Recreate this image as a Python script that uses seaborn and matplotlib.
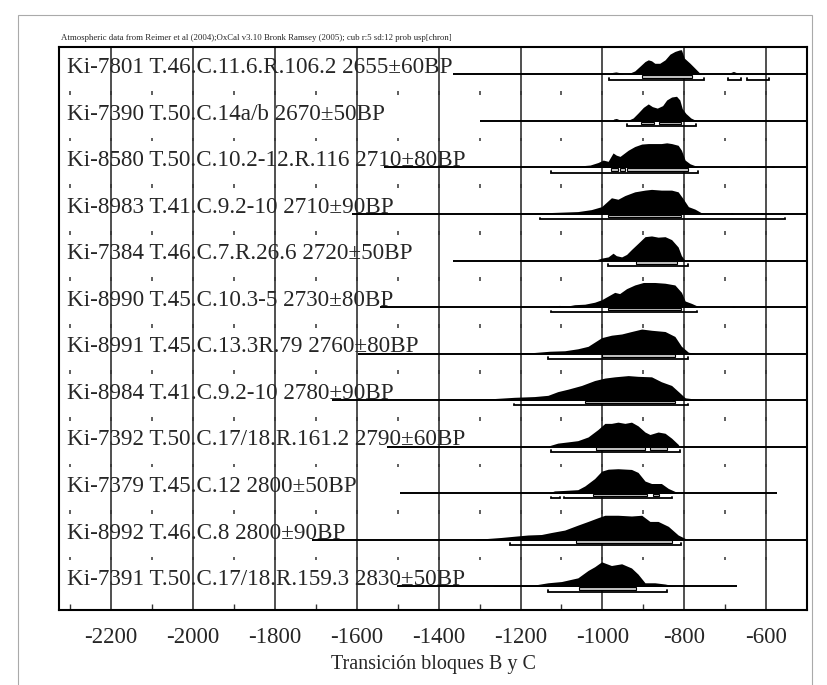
#!/usr/bin/env python
"""
plot.py - OxCal style multiplot of calibrated dates, transicion bloques B y C
usage: python plot.py
"""
import matplotlib
matplotlib.use("Agg")
import matplotlib.pyplot as plt
from matplotlib.patches import Rectangle
import seaborn as sns

TITLE = ("Atmospheric data from Reimer et al (2004);OxCal v3.10 Bronk Ramsey (2005); "
         "cub r:5 sd:12 prob usp[chron]")
XLABEL = "Transición bloques B y C"

labels = [
    "Ki-7801 T.46.C.11.6.R.106.2 2655±60BP",
    "Ki-7390 T.50.C.14a/b 2670±50BP",
    "Ki-8580 T.50.C.10.2-12.R.116 2710±80BP",
    "Ki-8983 T.41.C.9.2-10 2710±90BP",
    "Ki-7384 T.46.C.7.R.26.6 2720±50BP",
    "Ki-8990 T.45.C.10.3-5 2730±80BP",
    "Ki-8991 T.45.C.13.3R.79 2760±80BP",
    "Ki-8984 T.41.C.9.2-10 2780±90BP",
    "Ki-7392 T.50.C.17/18.R.161.2 2790±60BP",
    "Ki-7379 T.45.C.12 2800±50BP",
    "Ki-8992 T.46.C.8 2800±90BP",
    "Ki-7391 T.50.C.17/18.R.159.3 2830±50BP",
]

# extent of the horizontal line of every row (cal BC as negative years)
line_start = [-1365, -1299, -1533, -1611, -1365, -1543, -1597, -1661, -1527, -1494, -1710, -1502]
line_end = [-501, -501, -501, -501, -501, -501, -501, -501, -501, -574, -501, -672]

# probability profiles (year, relative height)
prof_years = [
    [-988, -975, -967, -958, -948, -941, -921, -909, -896, -888, -880, -872, -860, -847, -835,
     -823, -812, -807, -800, -786, -774, -762, -756, -694, -686, -680, -674, -668],
    [-978, -972, -966, -960, -950, -941, -925, -913, -900, -888, -878, -866, -853, -843, -831,
     -819, -811, -805, -796, -784, -774, -766],
    [-1130, -1100, -1051, -1030, -1011, -998, -986, -974, -966, -957, -949, -937, -921, -904,
     -888, -872, -856, -843, -831, -815, -807, -798, -786, -770, -762, -692, -686, -670, -664,
     -651, -645, -606, -600, -590, -584, -578],
    [-1270, -1264, -1207, -1129, -1060, -1027, -1002, -978, -962, -945, -921, -896, -880, -856,
     -831, -815, -802, -790, -774, -758, -745, -690, -684, -678, -617, -611, -605],
    [-1020, -1015, -1002, -986, -974, -966, -953, -941, -929, -913, -896, -880, -864, -847, -831,
     -815, -807, -798],
    [-1135, -1129, -1105, -1084, -1068, -1043, -1019, -1002, -986, -970, -958, -941, -921, -900,
     -872, -847, -823, -807, -798, -782, -766, -758, -686, -680, -674],
    [-1262, -1256, -1215, -1166, -1129, -1092, -1060, -1035, -1002, -978, -953, -929, -904, -880,
     -847, -823, -807, -790, -774, -766],
    [-1385, -1378, -1346, -1313, -1264, -1215, -1166, -1133, -1109, -1084, -1051, -1019, -994,
     -970, -937, -913, -880, -856, -831, -811, -798, -774, -758, -750, -686, -680, -674, -617,
     -611, -605],
    [-1133, -1129, -1109, -1084, -1060, -1035, -1011, -994, -978, -962, -945, -929, -913, -896,
     -884, -864, -847, -831, -815, -811],
    [-1133, -1129, -1117, -1092, -1060, -1043, -1019, -1002, -986, -962, -929, -913, -896, -880,
     -856, -839, -819, -811],
    [-1315, -1309, -1280, -1247, -1215, -1182, -1149, -1125, -1092, -1060, -1035, -1011, -994,
     -962, -929, -904, -884, -864, -839, -815, -798, -790],
    [-1270, -1264, -1215, -1166, -1133, -1100, -1060, -1035, -1019, -1002, -978, -953, -929,
     -913, -896, -872, -847, -827, -819],
]
prof_heights = [
    [0, 0.08, 0.10, 0.07, 0, 0, 0.14, 0.32, 0.52, 0.59, 0.55, 0.45, 0.45, 0.59, 0.82,
     0.93, 0.99, 1.0, 0.66, 0.45, 0.25, 0.05, 0, 0, 0.08, 0.12, 0.08, 0],
    [0, 0.08, 0.10, 0.06, 0, 0, 0.12, 0.32, 0.55, 0.69, 0.58, 0.52, 0.62, 0.85, 0.97,
     1.0, 0.85, 0.50, 0.30, 0.12, 0.04, 0],
    [0, 0.03, 0.07, 0.10, 0.20, 0.30, 0.25, 0.59, 0.50, 0.45, 0.55, 0.70, 0.85, 0.95,
     0.97, 0.97, 0.97, 1.0, 0.97, 0.90, 0.70, 0.30, 0.15, 0.05, 0, 0, 0.04, 0.04, 0,
     0, 0.04, 0.04, 0, 0, 0.05, 0],
    [0, 0.02, 0.03, 0.06, 0.10, 0.18, 0.30, 0.66, 0.60, 0.75, 0.90, 0.97, 1.0, 0.97,
     0.97, 0.90, 0.60, 0.30, 0.20, 0.05, 0, 0, 0.06, 0, 0, 0.06, 0],
    [0, 0.03, 0.10, 0.15, 0.30, 0.20, 0.15, 0.25, 0.45, 0.70, 0.97, 1.0, 0.95, 0.97, 0.85,
     0.55, 0.20, 0],
    [0, 0.05, 0.07, 0.05, 0.10, 0.12, 0.20, 0.30, 0.45, 0.60, 0.55, 0.75, 0.90, 1.0,
     1.0, 0.97, 0.90, 0.60, 0.25, 0.15, 0.03, 0, 0, 0.04, 0],
    [0, 0.03, 0.04, 0.05, 0.10, 0.12, 0.20, 0.30, 0.65, 0.75, 0.80, 0.90, 1.0, 0.95,
     0.90, 0.70, 0.30, 0.06, 0.02, 0],
    [0, 0.03, 0.02, 0.05, 0.07, 0.12, 0.15, 0.20, 0.35, 0.45, 0.60, 0.80, 0.90, 0.95,
     1.0, 0.97, 0.95, 0.75, 0.60, 0.30, 0.10, 0.05, 0.03, 0, 0, 0.04, 0, 0, 0.04, 0],
    [0, 0.05, 0.15, 0.20, 0.25, 0.40, 0.70, 0.95, 0.95, 1.0, 0.95, 1.0, 0.85, 0.60,
     0.50, 0.60, 0.55, 0.35, 0.10, 0],
    [0, 0.03, 0.10, 0.12, 0.15, 0.30, 0.60, 0.90, 0.98, 1.0, 0.97, 0.85, 0.50, 0.40,
     0.40, 0.20, 0.05, 0],
    [0, 0.03, 0.06, 0.10, 0.15, 0.20, 0.22, 0.30, 0.40, 0.60, 0.75, 0.90, 1.0, 1.0,
     0.97, 1.0, 0.75, 0.75, 0.55, 0.20, 0.06, 0],
    [0, 0.03, 0.05, 0.06, 0.15, 0.20, 0.35, 0.65, 0.80, 1.0, 0.85, 0.92, 0.75, 0.50,
     0.15, 0.15, 0.10, 0.03, 0],
]

# 68.2% ranges (boxes) and 95.4% ranges (bracket lines)
r68 = [
    [(-904, -782)],
    [(-905, -873), (-861, -808)],
    [(-980, -962), (-958, -944), (-940, -790)],
    [(-986, -807)],
    [(-917, -819)],
    [(-986, -807)],
    [(-1002, -823)],
    [(-1043, -823)],
    [(-1015, -896), (-884, -843)],
    [(-1023, -892), (-876, -862)],
    [(-1064, -831)],
    [(-1056, -917)],
]
r95 = [
    [(-984, -752), (-694, -661), (-647, -594)],
    [(-940, -772)],
    [(-1125, -766)],
    [(-1153, -553)],
    [(-986, -790)],
    [(-1125, -770)],
    [(-1133, -790)],
    [(-1215, -790)],
    [(-1125, -811)],
    [(-1125, -1104), (-1094, -831)],
    [(-1225, -807)],
    [(-1133, -843)],
]

grid_years = [-2200, -2000, -1800, -1600, -1400, -1200, -1000, -800, -600]
minor_years = list(range(-2300, -500, 100))


def main():
    sns.set_theme(style="white")
    plt.rcParams["font.family"] = ["Liberation Serif", "DejaVu Serif"]

    fig = plt.figure(figsize=(8.27, 6.85), dpi=100)
    ax = fig.add_axes([0.0719, 0.1095, 0.9036, 0.822])
    n = len(labels)
    ax.set_xlim(-2326, -501)
    ax.set_ylim(n - 1 + 0.505, -0.59)

    # vertical grid lines every 200 years
    ax.vlines(grid_years, -1, n + 1, color="#505050", lw=1.4, zorder=1)

    pk = 0.53  # height of the tallest peak in row units
    for i in range(n):
        # small ticks at the top of every row
        ax.vlines(minor_years, i - 0.64, i - 0.56, color="#333333", lw=1.1, zorder=1)
        ax.hlines(i, line_start[i], line_end[i], color="black", lw=1.4, zorder=3)
        ys = [i - pk * h for h in prof_heights[i]]
        ax.fill_between(prof_years[i], i, ys, color="black", lw=0, zorder=2)
        for a, b in r68[i]:
            ax.add_patch(Rectangle((a, i + 0.012), b - a, 0.055, facecolor="#c8c8c8",
                                   edgecolor="black", lw=0.8, zorder=3))
        for a, b in r95[i]:
            yy = i + 0.11
            ax.plot([a, a, b, b], [yy - 0.035, yy, yy, yy - 0.035], color="black",
                    lw=1.3, zorder=3, solid_joinstyle="miter")
        ax.text(-2307, i - 0.03, labels[i], fontsize=16.7, va="baseline", ha="left", zorder=4)

    ax.set_yticks([])
    ax.set_xticks(grid_years)
    ax.set_xticklabels([str(v) for v in grid_years], fontsize=16.5)
    ax.set_xticks(minor_years, minor=True)
    ax.tick_params(axis="x", which="major", length=0, pad=12)
    ax.tick_params(axis="x", which="minor", direction="in", length=4, width=1,
                   bottom=True, color="#333333")
    ax.set_xlabel(XLABEL, fontsize=14.5, labelpad=5)
    for sp in ax.spines.values():
        sp.set_color("black")
        sp.set_linewidth(1.5)

    fig.text(61 / 827, 1 - 38 / 685, TITLE, fontsize=6.3, va="center", ha="left")
    fig.patches.append(Rectangle((18 / 827, -0.01), 794 / 827, 1 - 15 / 685 + 0.01,
                                 transform=fig.transFigure, fill=False,
                                 edgecolor="#aaaaaa", lw=0.8))
    fig.savefig("out.png", dpi=100)


if __name__ == "__main__":
    main()
